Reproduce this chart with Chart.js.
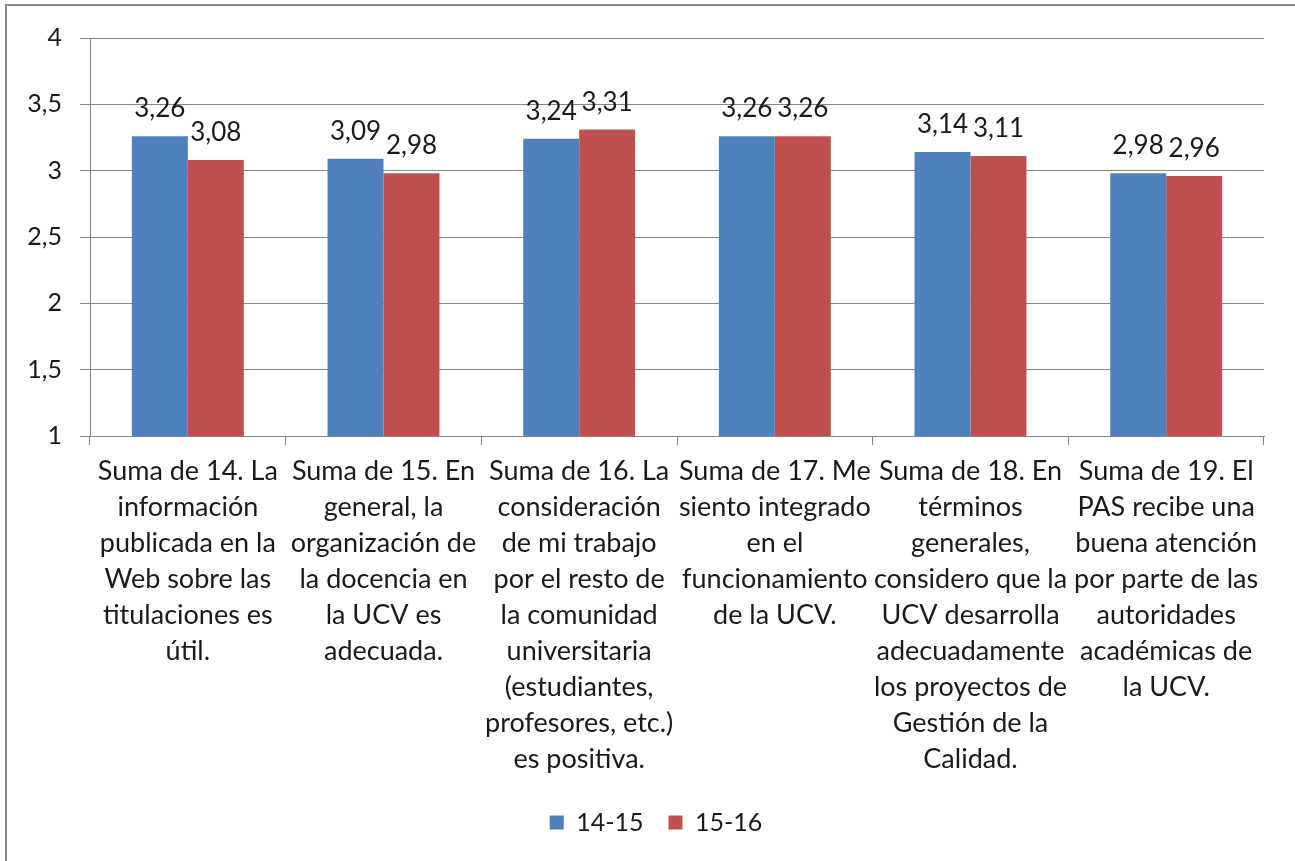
<!DOCTYPE html>
<html>
<head>
  <title>Suma de respuestas PAS</title>
  <script src="https://cdn.jsdelivr.net/npm/chart.js"></script>
  <style>
    body {
      margin: 0;
      background: #fff;
      overflow: hidden;
    }
    .frame {
      position: absolute;
      left: 5px;
      top: 4px;
      width: 1400px;
      height: 1000px;
      border-top: 2px solid #8a8a8a;
      border-left: 2px solid #8a8a8a;
    }
    .wrap {
      position: absolute;
      left: 0;
      top: 0;
      width: 1295px;
      height: 861px;
    }
  </style>
</head>
<body>
  <div class="frame"></div>
  <div class="wrap"><canvas id="chart" width="1295" height="861"></canvas></div>

  <script>
    const categories = [
      ['Suma de 14. La', 'información', 'publicada en la', 'Web sobre las', 'titulaciones es', 'útil.'],
      ['Suma de 15. En', 'general, la', 'organización de', 'la docencia en', 'la UCV es', 'adecuada.'],
      ['Suma de 16. La', 'consideración', 'de mi trabajo', 'por el resto de', 'la comunidad', 'universitaria', '(estudiantes,', 'profesores, etc.)', 'es positiva.'],
      ['Suma de 17. Me', 'siento integrado', 'en el', 'funcionamiento', 'de la UCV.'],
      ['Suma de 18. En', 'términos', 'generales,', 'considero que la', 'UCV desarrolla', 'adecuadamente', 'los proyectos de', 'Gestión de la', 'Calidad.'],
      ['Suma de 19. El', 'PAS recibe una', 'buena atención', 'por parte de las', 'autoridades', 'académicas de', 'la UCV.']
    ];
    const values1415 = [3.26, 3.09, 3.24, 3.26, 3.14, 2.98];
    const values1516 = [3.08, 2.98, 3.31, 3.26, 3.11, 2.96];
    const yTicks = [1, 1.5, 2, 2.5, 3, 3.5, 4];

    const FONT = 'Lato, "Open Sans", sans-serif';
    const fmt = v => String(v).replace('.', ',');

    // draws the value above each bar, like Excel data labels
    const valueLabels = {
      id: 'valueLabels',
      afterDatasetsDraw(chart) {
        const ctx = chart.ctx;
        ctx.save();
        ctx.font = '26px ' + FONT;
        ctx.fillStyle = '#1a1a1a';
        ctx.textAlign = 'center';
        ctx.textBaseline = 'alphabetic';
        chart.data.datasets.forEach((ds, i) => {
          chart.getDatasetMeta(i).data.forEach((bar, j) => {
            ctx.fillText(fmt(ds.data[j]), bar.x, bar.y - 19);
          });
        });
        ctx.restore();
      }
    };

    // legend sits a bit right of the canvas centre in the original
    const legendShift = {
      id: 'legendShift',
      afterLayout(chart) {
        chart.legend.left += 17;
        chart.legend.right += 17;
      }
    };

    const ctx = document.getElementById('chart').getContext('2d');
    new Chart(ctx, {
      type: 'bar',
      data: {
        labels: categories,
        datasets: [
          { label: '14-15', data: values1415, backgroundColor: '#4F81BD' },
          { label: '15-16', data: values1516, backgroundColor: '#C0504D' }
        ]
      },
      options: {
        responsive: false,
        animation: false,
        categoryPercentage: 0.572,
        barPercentage: 1,
        layout: {
          padding: { left: 14, right: 31, top: 38, bottom: 16 }
        },
        plugins: {
          legend: {
            position: 'bottom',
            labels: {
              boxWidth: 14,
              boxHeight: 14,
              padding: 25,
              color: '#1a1a1a',
              font: { family: FONT, size: 25 }
            }
          },
          tooltip: { enabled: false }
        },
        scales: {
          x: {
            afterFit: s => { s.paddingLeft = 0; s.paddingRight = 0; },
            grid: {
              drawOnChartArea: false,
              drawTicks: true,
              tickLength: 9,
              color: '#868686'
            },
            border: { color: '#868686' },
            ticks: {
              color: '#1a1a1a',
              maxRotation: 0,
              autoSkip: false,
              padding: 8,
              font: { family: FONT, size: 27, lineHeight: 1.333 }
            }
          },
          y: {
            min: 1,
            max: 4,
            afterFit: s => { s.width = 76; },
            afterBuildTicks: axis => {
              axis.ticks = yTicks.map(v => ({ value: v }));
            },
            grid: {
              color: '#868686',
              tickLength: 10
            },
            border: { color: '#868686' },
            ticks: {
              color: '#1a1a1a',
              padding: 18,
              font: { family: FONT, size: 25 },
              callback: v => fmt(v)
            }
          }
        }
      },
      plugins: [valueLabels, legendShift]
    });
  </script>
</body>
</html>
